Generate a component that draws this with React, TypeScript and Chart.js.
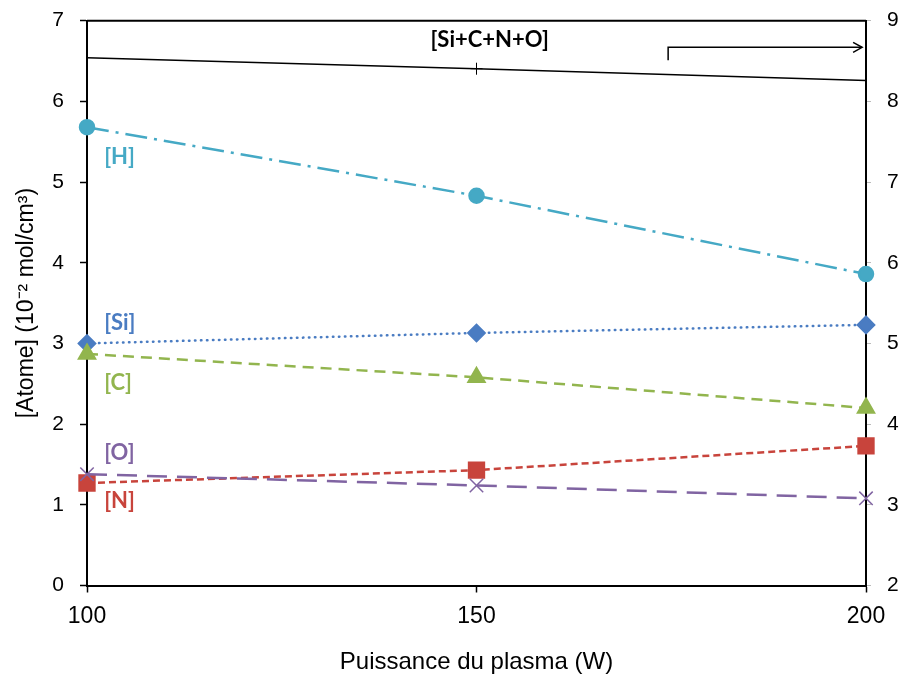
import React, { useEffect, useRef } from 'react';
import { Chart, registerables } from 'chart.js';

Chart.register(...registerables);

// ---- data ----
const powers = [100, 150, 200];
const hValues = [5.68, 4.83, 3.86];
const siValues = [3.0, 3.13, 3.23];
const cValues = [2.87, 2.58, 2.2];
const nValues = [1.27, 1.43, 1.73];
const oValues = [1.38, 1.24, 1.08];
const totalValues = [8.54, 8.405, 8.26];

const xTicks = [100, 150, 200];
const leftTicks = [0, 1, 2, 3, 4, 5, 6, 7];
const rightTicks = [2, 3, 4, 5, 6, 7, 8, 9];

const seriesLabels = ['[H]', '[Si]', '[C]', '[O]', '[N]'];
const seriesLabelY = [5.31, 3.25, 2.51, 1.64, 1.05];
const seriesLabelX = 102.2;
const totalLabel = '[Si+C+N+O]';
const totalLabelPos = { x: 151.7, y: 6.76 };
const arrowPts = { x0: 174.6, y0: 6.51, y1: 6.67, x1: 199.5 };

const xTitle = 'Puissance du plasma (W)';
const yTitle = '[Atome] (10⁻² mol/cm³)';

const colH = '#45A9C5';
const colSi = '#4A7CC2';
const colC = '#92B54E';
const colN = '#C8443C';
const colO = '#8064A2';
const labelColors = [colH, colSi, colC, colO, colN];

const FONT = "'Liberation Sans', Arial, sans-serif";
const LFONT = "Lato, 'Open Sans', sans-serif";

const annotPlugin = {
  id: 'annot',
  beforeDatasetsDraw(chart: any) {
    const { ctx, chartArea } = chart;
    ctx.save();
    ctx.strokeStyle = '#000';
    ctx.lineWidth = 2;
    ctx.beginPath();
    ctx.moveTo(chartArea.left, chartArea.top);
    ctx.lineTo(chartArea.right, chartArea.top);
    ctx.stroke();
    ctx.restore();
  },
  afterDatasetsDraw(chart: any) {
    const { ctx } = chart;
    const xs = chart.scales.x;
    const ys = chart.scales.y;
    ctx.save();
    ctx.font = `bold 22px ${LFONT}`;
    ctx.textAlign = 'left';
    ctx.textBaseline = 'middle';
    seriesLabels.forEach((t, i) => {
      ctx.fillStyle = labelColors[i];
      ctx.fillText(t, xs.getPixelForValue(seriesLabelX), ys.getPixelForValue(seriesLabelY[i]));
    });
    ctx.fillStyle = '#000';
    ctx.font = `bold 22px ${LFONT}`;
    ctx.textAlign = 'center';
    ctx.fillText(totalLabel, xs.getPixelForValue(totalLabelPos.x), ys.getPixelForValue(totalLabelPos.y));

    const ax0 = xs.getPixelForValue(arrowPts.x0);
    const ax1 = xs.getPixelForValue(arrowPts.x1);
    const ay0 = ys.getPixelForValue(arrowPts.y0);
    const ay1 = ys.getPixelForValue(arrowPts.y1);
    ctx.strokeStyle = '#000';
    ctx.lineWidth = 1.5;
    ctx.beginPath();
    ctx.moveTo(ax0, ay0);
    ctx.lineTo(ax0, ay1);
    ctx.lineTo(ax1, ay1);
    ctx.stroke();
    ctx.beginPath();
    ctx.moveTo(ax1 - 9, ay1 - 5);
    ctx.lineTo(ax1, ay1);
    ctx.lineTo(ax1 - 9, ay1 + 5);
    ctx.stroke();
    ctx.restore();
  },
};

export default function App() {
  const ref = useRef<HTMLCanvasElement>(null);
  useEffect(() => {
    document.body.style.margin = '0';
    const mk = (vals: number[]) => vals.map((v, i) => ({ x: powers[i], y: v }));
    const noPadV = (s: any) => {
      s.paddingTop = 0;
      s.paddingBottom = 0;
    };
    const chart = new Chart(ref.current as HTMLCanvasElement, {
      type: 'line',
      data: {
        datasets: [
          {
            label: 'total',
            data: mk(totalValues),
            yAxisID: 'y2',
            borderColor: '#000',
            borderWidth: 1.5,
            pointStyle: 'cross',
            pointRadius: [0, 6, 0],
            pointBorderColor: '#000',
            pointBorderWidth: 1,
            clip: false,
          },
          {
            label: 'O',
            data: mk(oValues),
            yAxisID: 'y',
            borderColor: colO,
            borderWidth: 2.5,
            borderDash: [20, 10],
            pointStyle: 'crossRot',
            pointRadius: 9.5,
            pointBorderColor: colO,
            pointBorderWidth: 1.5,
            clip: false,
          },
          {
            label: 'N',
            data: mk(nValues),
            yAxisID: 'y',
            borderColor: colN,
            borderWidth: 2.5,
            borderDash: [7, 4],
            pointStyle: 'rect',
            pointRadius: 10.5,
            pointBackgroundColor: colN,
            pointBorderColor: colN,
            clip: false,
          },
          {
            label: 'C',
            data: mk(cValues),
            yAxisID: 'y',
            borderColor: colC,
            borderWidth: 2.5,
            borderDash: [11, 7],
            pointStyle: 'triangle',
            pointRadius: 9,
            pointBackgroundColor: colC,
            pointBorderColor: colC,
            clip: false,
          },
          {
            label: 'Si',
            data: mk(siValues),
            yAxisID: 'y',
            borderColor: colSi,
            borderWidth: 2.5,
            borderDash: [0.5, 5.5],
            borderCapStyle: 'round',
            pointStyle: 'rectRot',
            pointRadius: 8,
            pointBackgroundColor: colSi,
            pointBorderColor: colSi,
            clip: false,
          },
          {
            label: 'H',
            data: mk(hValues),
            yAxisID: 'y',
            borderColor: colH,
            borderWidth: 2.5,
            borderDash: [22, 7, 3, 7],
            pointStyle: 'circle',
            pointRadius: 7,
            pointBackgroundColor: colH,
            pointBorderColor: colH,
            clip: false,
          },
        ],
      } as any,
      options: {
        responsive: false,
        animation: false,
        layout: { padding: { top: 20.7, left: 0, right: 0, bottom: 0 } },
        plugins: { legend: { display: false }, tooltip: { enabled: false } },
        scales: {
          x: {
            type: 'linear',
            min: 100,
            max: 200,
            afterBuildTicks: (s: any) => {
              s.ticks = xTicks.map((v) => ({ value: v }));
            },
            afterFit: (s: any) => {
              s.height = 93.5;
            },
            grid: { drawOnChartArea: false, color: '#000', tickLength: 7, tickWidth: 1.5 },
            border: { color: '#000', width: 2 },
            ticks: { color: '#000', font: { family: FONT, size: 23 }, padding: 10 },
            title: {
              display: true,
              text: xTitle,
              color: '#000',
              font: { family: FONT, size: 24 },
              padding: { top: 0, bottom: 2 },
            },
          },
          y: {
            type: 'linear',
            position: 'left',
            min: 0,
            max: 7,
            afterBuildTicks: (s: any) => {
              s.ticks = leftTicks.map((v) => ({ value: v }));
            },
            afterFit: (s: any) => {
              s.width = 87;
              noPadV(s);
            },
            grid: { drawOnChartArea: false, color: '#000', tickLength: 7, tickWidth: 1.5 },
            border: { color: '#000', width: 2 },
            ticks: { color: '#000', font: { family: FONT, size: 21 }, padding: 16 },
            title: {
              display: true,
              text: yTitle,
              color: '#000',
              font: { family: FONT, size: 23 },
              padding: { top: 13, bottom: 0 },
            },
          },
          y2: {
            type: 'linear',
            position: 'right',
            min: 2,
            max: 9,
            afterBuildTicks: (s: any) => {
              s.ticks = rightTicks.map((v) => ({ value: v }));
            },
            afterFit: (s: any) => {
              s.width = 37;
              noPadV(s);
            },
            grid: { drawOnChartArea: false, color: '#bbb', tickLength: 5, tickWidth: 1 },
            border: { color: '#000', width: 2 },
            ticks: { color: '#000', font: { family: FONT, size: 21 }, padding: 16 },
          },
        },
      } as any,
      plugins: [annotPlugin],
    });
    return () => chart.destroy();
  }, []);
  return (
    <div style={{ width: 903, height: 679 }}>
      <canvas ref={ref} width={903} height={679} style={{ display: 'block' }} />
    </div>
  );
}
